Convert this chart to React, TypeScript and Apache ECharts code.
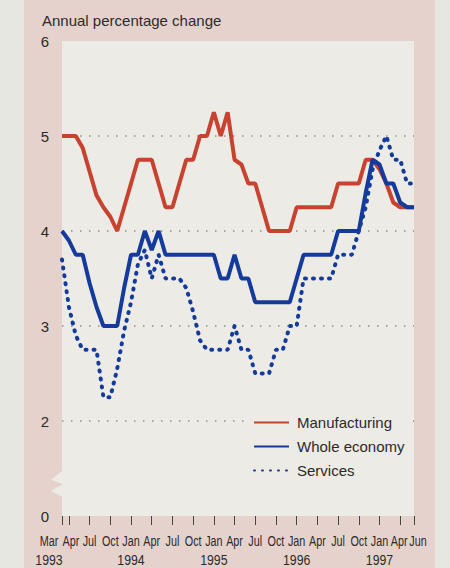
import React, { useEffect, useRef } from "react";
import * as echarts from "echarts";

const months: string[] = [
  "Mar 1993", "Apr 1993", "May 1993", "Jun 1993", "Jul 1993", "Aug 1993", "Sep 1993", "Oct 1993", "Nov 1993", "Dec 1993",
  "Jan 1994", "Feb 1994", "Mar 1994", "Apr 1994", "May 1994", "Jun 1994", "Jul 1994", "Aug 1994", "Sep 1994", "Oct 1994", "Nov 1994", "Dec 1994",
  "Jan 1995", "Feb 1995", "Mar 1995", "Apr 1995", "May 1995", "Jun 1995", "Jul 1995", "Aug 1995", "Sep 1995", "Oct 1995", "Nov 1995", "Dec 1995",
  "Jan 1996", "Feb 1996", "Mar 1996", "Apr 1996", "May 1996", "Jun 1996", "Jul 1996", "Aug 1996", "Sep 1996", "Oct 1996", "Nov 1996", "Dec 1996",
  "Jan 1997", "Feb 1997", "Mar 1997", "Apr 1997", "May 1997", "Jun 1997",
];

const manufacturing: number[] = [
  5, 5, 5, 4.875, 4.625, 4.375, 4.25, 4.15, 4.0, 4.25,
  4.5, 4.75, 4.75, 4.75, 4.5, 4.25, 4.25, 4.5, 4.75, 4.75, 5.0, 5.0,
  5.25, 5.0, 5.25, 4.75, 4.7, 4.5, 4.5, 4.25, 4.0, 4.0, 4.0, 4.0,
  4.25, 4.25, 4.25, 4.25, 4.25, 4.25, 4.5, 4.5, 4.5, 4.5, 4.75, 4.75,
  4.65, 4.5, 4.3, 4.25, 4.25, 4.25,
];

const wholeEconomy: number[] = [
  4.0, 3.9, 3.75, 3.75, 3.45, 3.2, 3.0, 3.0, 3.0, 3.4,
  3.75, 3.75, 4.0, 3.8, 4.0, 3.75, 3.75, 3.75, 3.75, 3.75, 3.75, 3.75,
  3.75, 3.5, 3.5, 3.75, 3.5, 3.5, 3.25, 3.25, 3.25, 3.25, 3.25, 3.25,
  3.5, 3.75, 3.75, 3.75, 3.75, 3.75, 4.0, 4.0, 4.0, 4.0, 4.4, 4.75,
  4.7, 4.5, 4.5, 4.3, 4.25, 4.25,
];

const services: number[] = [
  3.7, 3.2, 2.9, 2.75, 2.75, 2.75, 2.25, 2.25, 2.55, 2.95,
  3.25, 3.65, 3.8, 3.5, 3.75, 3.5, 3.5, 3.5, 3.4, 3.15, 2.85, 2.75,
  2.75, 2.75, 2.75, 3.0, 2.75, 2.75, 2.5, 2.5, 2.5, 2.75, 2.75, 3.0,
  3.0, 3.5, 3.5, 3.5, 3.5, 3.5, 3.75, 3.75, 3.75, 4.0, 4.25, 4.65,
  4.85, 5.0, 4.75, 4.75, 4.5, 4.5,
];

const tickMonths: string[] = [
  "Mar 1993", "Apr 1993", "Jul 1993", "Oct 1993", "Jan 1994", "Apr 1994", "Jul 1994", "Oct 1994",
  "Jan 1995", "Apr 1995", "Jul 1995", "Oct 1995", "Jan 1996", "Apr 1996", "Jul 1996", "Oct 1996",
  "Jan 1997", "Apr 1997", "Jun 1997",
];
const yearLabelMonths: string[] = ["Mar 1993", "Jan 1994", "Jan 1995", "Jan 1996", "Jan 1997"];

const RED = "#c8432f";
const BLUE = "#143b9c";
const PLOT_BG = "#ecebe6";
const PINK = "#e6d2cc";
const OUTER = "#e7e7e2";
const TEXT = "#2b2b2b";
const SANS = "'Liberation Sans', Arial, sans-serif";

export default function App() {
  const ref = useRef<HTMLDivElement>(null);

  useEffect(() => {
    document.body.style.margin = "0";
    if (!ref.current) return;
    const chart = echarts.init(ref.current, undefined, { renderer: "svg" });
    const tickSet = new Set(tickMonths);
    const option: any = {
      animation: false,
      title: {
        text: "Annual percentage change",
        left: 37,
        top: 8,
        textStyle: { fontFamily: SANS, fontSize: 15, fontWeight: "normal", color: TEXT },
      },
      grid: {
        left: 62,
        right: 36,
        top: 41,
        bottom: 52,
        show: true,
        backgroundColor: PLOT_BG,
        borderWidth: 0,
      },
      legend: {
        orient: "vertical",
        left: 251,
        top: 413,
        itemWidth: 35,
        itemHeight: 14,
        itemGap: 9,
        padding: [2, 4, 2, 2],
        backgroundColor: PLOT_BG,
        itemStyle: { opacity: 0 },
        data: ["Manufacturing", "Whole economy", "Services"],
        textStyle: { fontFamily: SANS, fontSize: 15, color: TEXT, padding: [0, 0, 0, 3] },
      },
      xAxis: {
        type: "category",
        data: months,
        boundaryGap: false,
        axisLine: { show: false },
        axisTick: {
          show: true,
          length: 9,
          interval: (i: number, v: string) => tickSet.has(v),
          lineStyle: { color: "#444", width: 1 },
        },
        axisLabel: { show: false },
        splitLine: { show: false },
      },
      yAxis: {
        type: "value",
        min: 1,
        max: 6,
        interval: 1,
        axisLine: { show: false },
        axisTick: { show: false },
        axisLabel: {
          margin: 13,
          color: TEXT,
          fontFamily: SANS,
          fontSize: 15,
          formatter: (v: number) => (v === 1 ? "0" : String(v)),
        },
        splitLine: {
          show: true,
          showMinLine: false,
          showMaxLine: false,
          lineStyle: { color: "#8f8f8f", width: 1.5, type: [1.5, 7.5] },
        },
      },
      series: [
        {
          name: "Manufacturing",
          type: "line",
          data: manufacturing,
          symbol: "none",
          lineStyle: { color: RED, width: 4 },
          itemStyle: { color: RED },
        },
        {
          name: "Services",
          type: "line",
          data: services,
          symbol: "none",
          lineStyle: { color: BLUE, width: 4, type: [1, 7], cap: "round" },
          itemStyle: { color: BLUE },
        },
        {
          name: "Whole economy",
          type: "line",
          data: wholeEconomy,
          symbol: "none",
          lineStyle: { color: BLUE, width: 4 },
          itemStyle: { color: BLUE },
        },
      ],
    };
    chart.setOption(option);

    // x-axis labels placed via the axis scale (condensed text)
    const shifts: Record<string, number> = { "Mar 1993": -13, "Apr 1993": 2, "Apr 1997": -1, "Jun 1997": 4 };
    const labelEls: any[] = [];
    tickMonths.forEach((m) => {
      const px = chart.convertToPixel({ xAxisIndex: 0 }, m) as number;
      const [mon, yr] = m.split(" ");
      const shift = shifts[m] || 0;
      labelEls.push({
        type: "text",
        x: px + shift,
        y: 541,
        scaleX: 0.72,
        style: {
          text: mon,
          fontFamily: SANS,
          fontSize: 15,
          fill: TEXT,
          textAlign: "center",
          textVerticalAlign: "middle",
        },
      });
      if (yearLabelMonths.includes(m)) {
        labelEls.push({
          type: "text",
          x: px + shift,
          y: 560,
          scaleX: 0.82,
          style: {
            text: yr,
            fontFamily: SANS,
            fontSize: 15,
            fill: TEXT,
            textAlign: "center",
            textVerticalAlign: "middle",
          },
        });
      }
    });
    chart.setOption({
      graphic: [
        {
          type: "polygon",
          z: 100,
          shape: { points: [[63, 470], [51, 480], [63, 484], [51, 491], [63, 497]] },
          style: { fill: PLOT_BG },
        },
        ...labelEls,
      ],
    });
    return () => chart.dispose();
  }, []);

  return (
    <div style={{ position: "absolute", left: 0, top: 0, width: 450, height: 568, background: OUTER }}>
      <div style={{ position: "absolute", left: 24, top: 0, width: 411, height: 568, background: PINK }} />
      <div ref={ref} style={{ position: "absolute", left: 0, top: 0, width: 450, height: 568 }} />
    </div>
  );
}
